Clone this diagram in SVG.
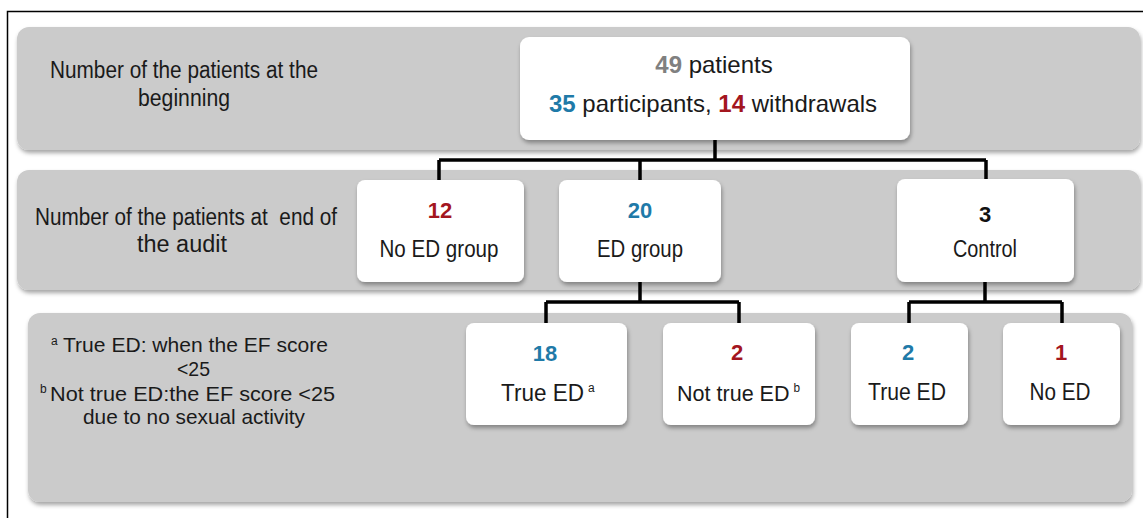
<svg xmlns="http://www.w3.org/2000/svg" width="1143" height="518" viewBox="0 0 1143 518">
<defs>
<filter id="sh" x="-10%" y="-10%" width="120%" height="130%">
<feDropShadow dx="1" dy="3" stdDeviation="2" flood-color="#000" flood-opacity="0.35"/>
</filter>
<style>
text{font-family:"Liberation Sans",Arial,sans-serif;font-size:23px;fill:#1a1a1a;text-anchor:middle}
.st{text-anchor:start}
.fn{font-size:21px}
.band{fill:#cbcbcb;filter:url(#sh)}
.box{fill:#ffffff;filter:url(#sh)}
.big{font-size:24px}
.n{font-weight:bold}
.num{font-weight:bold;font-size:22px}
.grey{fill:#808080}
.blue{fill:#1f7aa8}
.red{fill:#a3161e}
.blk{fill:#111}
.sup{font-size:12px;text-anchor:start}
.supt{font-size:12px}
.conn{fill:none;stroke:#000;stroke-width:3.5}
</style>
</defs>
<rect x="0" y="0" width="1143" height="518" fill="#ffffff"/>
<rect x="7.5" y="11.5" width="1160" height="530" fill="#ffffff" stroke="#000" stroke-width="1.5"/>

<g id="band1">
<rect class="band" x="17" y="27" width="1123" height="123" rx="12"/>
<text class="st" x="50" y="78" textLength="268" lengthAdjust="spacingAndGlyphs">Number of the patients at the</text>
<text class="st" x="138" y="106" textLength="92" lengthAdjust="spacingAndGlyphs">beginning</text>
</g>
<g id="band2">
<rect class="band" x="17" y="170" width="1123" height="120" rx="12"/>
<text class="st" x="35" y="225" style="white-space:pre" textLength="302" lengthAdjust="spacingAndGlyphs">Number of the patients at  end of</text>
<text class="st" x="137" y="252" textLength="90" lengthAdjust="spacingAndGlyphs">the audit</text>
</g>
<g id="band3">
<rect class="band" x="28" y="313" width="1104" height="189" rx="12"/>
<text class="sup" x="51" y="345">a</text>
<text class="st fn" x="63" y="352" textLength="265" lengthAdjust="spacingAndGlyphs">True ED: when the EF score</text>
<text class="st fn" x="177" y="376" textLength="33" lengthAdjust="spacingAndGlyphs">&lt;25</text>
<text class="sup" x="40" y="393">b</text>
<text class="st fn" x="50" y="401" textLength="285" lengthAdjust="spacingAndGlyphs">Not true ED:the EF score &lt;25</text>
<text class="st fn" x="83" y="424" textLength="222" lengthAdjust="spacingAndGlyphs">due to no sexual activity</text>
</g>

<g id="connectors">
<path class="conn" d="M715 140 V160 M439 160 H986 M439 160 V180 M640 160 V180 M986 160 V179"/>
<path class="conn" d="M640 282 V302 M546 302 H739 M546 302 V323 M739 302 V323"/>
<path class="conn" d="M985 282 V302 M909 302 H1062 M909 302 V323 M1062 302 V323"/>
</g>

<g id="n-top">
<rect class="box" x="520" y="37" width="390" height="103" rx="9"/>
<text class="big" x="714" y="73"><tspan class="n grey">49</tspan> patients</text>
<text class="big" x="713" y="112"><tspan class="n blue">35</tspan> participants, <tspan class="n red">14</tspan> withdrawals</text>
</g>
<g id="n-noed">
<rect class="box" x="357" y="180" width="167" height="102" rx="8"/>
<text class="num red" x="440" y="218">12</text>
<text x="439" y="257" textLength="119" lengthAdjust="spacingAndGlyphs">No ED group</text>
</g>
<g id="n-ed">
<rect class="box" x="559" y="180" width="162" height="102" rx="8"/>
<text class="num blue" x="640" y="218">20</text>
<text x="640" y="257" textLength="86" lengthAdjust="spacingAndGlyphs">ED group</text>
</g>
<g id="n-control">
<rect class="box" x="897" y="179" width="177" height="103" rx="8"/>
<text class="num blk" x="985" y="222">3</text>
<text x="985" y="257" textLength="64" lengthAdjust="spacingAndGlyphs">Control</text>
</g>
<g id="n-trueed">
<rect class="box" x="466" y="323" width="161" height="102" rx="8"/>
<text class="num blue" x="545" y="361">18</text>
<text class="st" x="501" y="401" textLength="83" lengthAdjust="spacingAndGlyphs">True ED</text>
<text class="sup" x="588" y="392">a</text>
</g>
<g id="n-nottrue">
<rect class="box" x="663" y="323" width="152" height="102" rx="8"/>
<text class="num red" x="737" y="360">2</text>
<text class="st" x="677" y="401" style="font-size:22px" textLength="123" lengthAdjust="spacingAndGlyphs">Not true ED<tspan class="supt" dx="4" dy="-9">b</tspan></text>
</g>
<g id="n-trueed2">
<rect class="box" x="851" y="323" width="117" height="102" rx="8"/>
<text class="num blue" x="908" y="360">2</text>
<text x="907" y="400" textLength="78" lengthAdjust="spacingAndGlyphs">True ED</text>
</g>
<g id="n-noed2">
<rect class="box" x="1003" y="323" width="117" height="102" rx="8"/>
<text class="num red" x="1061" y="360">1</text>
<text x="1060" y="400" textLength="61" lengthAdjust="spacingAndGlyphs">No ED</text>
</g>
</svg>
